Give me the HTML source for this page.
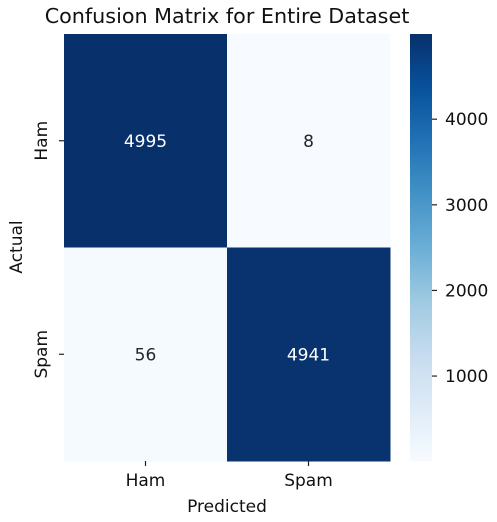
<!DOCTYPE html>
<html><head><meta charset="utf-8"><style>
body{margin:0;background:#fff;}
svg text{font-family:"DejaVu Sans","Liberation Sans",sans-serif;}
</style></head><body>
<svg id="chart" width="497" height="517" xmlns="http://www.w3.org/2000/svg">
<defs>
<linearGradient id="blues" x1="0" y1="1" x2="0" y2="0">
<stop offset="0" stop-color="#f7fbff"/><stop offset="0.125" stop-color="#deebf7"/>
<stop offset="0.25" stop-color="#c6dbef"/><stop offset="0.375" stop-color="#9ecae1"/>
<stop offset="0.5" stop-color="#6baed6"/><stop offset="0.625" stop-color="#4292c6"/>
<stop offset="0.75" stop-color="#2171b5"/><stop offset="0.875" stop-color="#08519c"/>
<stop offset="1" stop-color="#08306b"/>
</linearGradient>
</defs>
<text x="227" y="23" font-size="20.7" text-anchor="middle" fill="#111">Confusion Matrix for Entire Dataset</text>
<g id="cells"></g>
<rect x="410" y="34" width="22" height="427" fill="url(#blues)"/>
<g id="cbticks"></g>
<text x="227" y="512" font-size="17" text-anchor="middle" fill="#111">Predicted</text>
<text transform="translate(22,247) rotate(-90)" font-size="17" text-anchor="middle" fill="#111">Actual</text>
</svg>
<script>
const labels=["Ham","Spam"];
const values=[[4995,8],[56,4941]];
const cbTicks=[1000,2000,3000,4000];
const vmin=8, vmax=4995;
const X0=64,Y0=34,W=326,H=427,NS="http://www.w3.org/2000/svg";
const stops=[[247,251,255],[222,235,247],[198,219,239],[158,202,225],[107,174,214],[66,146,198],[33,113,181],[8,81,156],[8,48,107]];
function color(v){let t=Math.max(0,Math.min(1,(v-vmin)/(vmax-vmin)))*8;let i=Math.min(7,Math.floor(t)),f=t-i;
const c=stops[i].map((a,k)=>Math.round(a+(stops[i+1][k]-a)*f));return [`rgb(${c})`,t/8];}
function mk(tag,attrs,parent){const e=document.createElementNS(NS,tag);for(const k in attrs)e.setAttribute(k,attrs[k]);parent.appendChild(e);return e;}
const g=document.getElementById('cells'),svg=document.getElementById('chart');
const cw=W/labels.length,ch=H/labels.length;
values.forEach((row,r)=>row.forEach((v,c)=>{
 const [col,t]=color(v);
 const rc=mk('rect',{x:X0+c*cw,y:Y0+r*ch,width:cw+0.5,height:ch+0.5,fill:col},g);
 
 
 const tx=mk('text',{x:X0+c*cw+cw/2,y:Y0+r*ch+ch/2+6,'font-size':17,'text-anchor':'middle',fill:t>0.5?'#fff':'#262626'},g);
 tx.textContent=v;
 
 
}));
labels.forEach((l,i)=>{
 const x=X0+i*cw+cw/2;
 mk('line',{x1:x,x2:x,y1:Y0+H,y2:Y0+H+5,stroke:'#222','stroke-width':1.2},svg);
 const t=mk('text',{x:x,y:486,'font-size':17,'text-anchor':'middle',fill:'#111'},svg);
 t.textContent=l;
 
 
 const y=Y0+i*ch+ch/2;
 mk('line',{x1:X0-5,x2:X0,y1:y,y2:y,stroke:'#222','stroke-width':1.2},svg);
 const t2=mk('text',{transform:`translate(47,${y}) rotate(-90)`,'font-size':17,'text-anchor':'middle',fill:'#111'},svg);
 t2.textContent=l;
 
 
});
const cb=document.getElementById('cbticks');
cbTicks.forEach(v=>{
 const y=Y0+H-(v-vmin)/(vmax-vmin)*H;
 mk('line',{x1:432,x2:437,y1:y,y2:y,stroke:'#222','stroke-width':1.2},cb);
 const t=mk('text',{x:445,y:y+6,'font-size':17,fill:'#111'},cb);
 t.textContent=v;
 
 
});
</script>
</body></html>
